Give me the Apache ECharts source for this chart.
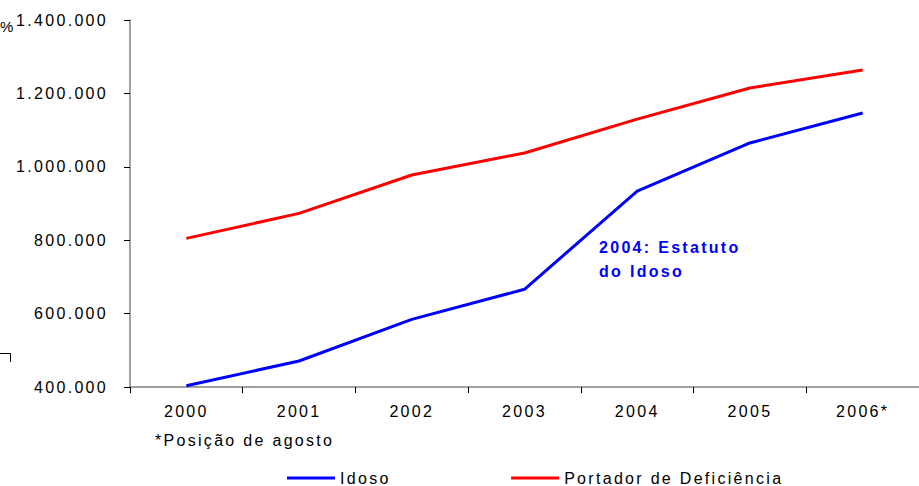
<!DOCTYPE html>
<html>
<head>
<meta charset="utf-8">
<script src="https://cdn.jsdelivr.net/npm/echarts@6/dist/echarts.min.js"></script>
<style>
html,body{margin:0;padding:0;background:#fff;}
#c{width:919px;height:486px;}
#c text{letter-spacing:2.3px;}
</style>
</head>
<body>
<div id="c"></div>
<script>
const categories = ['2000', '2001', '2002', '2003', '2004', '2005', '2006*'];
const idoso = [403500, 470800, 584400, 666200, 934000, 1064900, 1146600];
const deficiencia = [805000, 873000, 977700, 1037600, 1130000, 1214700, 1263800];
const yTicks = { min: 400000, max: 1400000, interval: 200000 };

function fmt(v) {
  return String(v).replace(/\B(?=(\d{3})+(?!\d))/g, '.');
}

const chart = echarts.init(document.getElementById('c'), null, { renderer: 'svg' });
const font = 'Liberation Sans, Arial, sans-serif';
chart.setOption({
  animation: false,
  backgroundColor: '#ffffff',
  grid: { left: 130, top: 20, right: -10, bottom: 99, containLabel: false },
  xAxis: {
    type: 'category',
    data: categories,
    boundaryGap: true,
    axisLine: { lineStyle: { color: '#808080', width: 1.5 } },
    axisTick: { show: true, inside: false, length: 6, lineStyle: { color: '#000', width: 1 } },
    axisLabel: { color: '#000', fontFamily: font, fontSize: 16, margin: 16 },
    splitLine: { show: false }
  },
  yAxis: {
    type: 'value',
    min: yTicks.min, max: yTicks.max, interval: yTicks.interval,
    axisLine: { show: true, lineStyle: { color: '#808080', width: 1.5 } },
    axisTick: { show: true, length: 6, lineStyle: { color: '#000', width: 1 } },
    axisLabel: { color: '#000', fontFamily: font, fontSize: 16, margin: 22, formatter: fmt },
    splitLine: { show: false }
  },
  legend: {
    left: 282, top: 470, padding: [0, 5, 0, 5],
    icon: 'rect', itemWidth: 48, itemHeight: 3, itemGap: 132,
    textStyle: { color: '#000', fontFamily: font, fontSize: 16, lineHeight: 16 },
    data: ['Idoso', 'Portador de Deficiência']
  },
  series: [
    {
      name: 'Idoso', type: 'line', data: idoso,
      symbol: 'none', lineStyle: { color: '#0000ff', width: 3 }, itemStyle: { color: '#0000ff' }
    },
    {
      name: 'Portador de Deficiência', type: 'line', data: deficiencia,
      symbol: 'none', lineStyle: { color: '#ff0000', width: 3 }, itemStyle: { color: '#ff0000' }
    }
  ],
  graphic: [
    { type: 'text', left: 599, top: 235, style: { text: '2004: Estatuto\ndo Idoso', fill: '#0000ff', font: 'bold 16px ' + font, lineHeight: 24 } },
    { type: 'text', left: 155, top: 432, style: { text: '*Posição de agosto', fill: '#000', font: '16px ' + font } },
    { type: 'text', left: 0, top: 19, style: { text: '%', fill: '#000', font: '15px ' + font } },
    { type: 'polyline', shape: { points: [[0, 353.5], [10.5, 353.5], [10.5, 362]] }, style: { stroke: '#000', lineWidth: 1, fill: null } }
  ]
});
</script>
</body>
</html>
